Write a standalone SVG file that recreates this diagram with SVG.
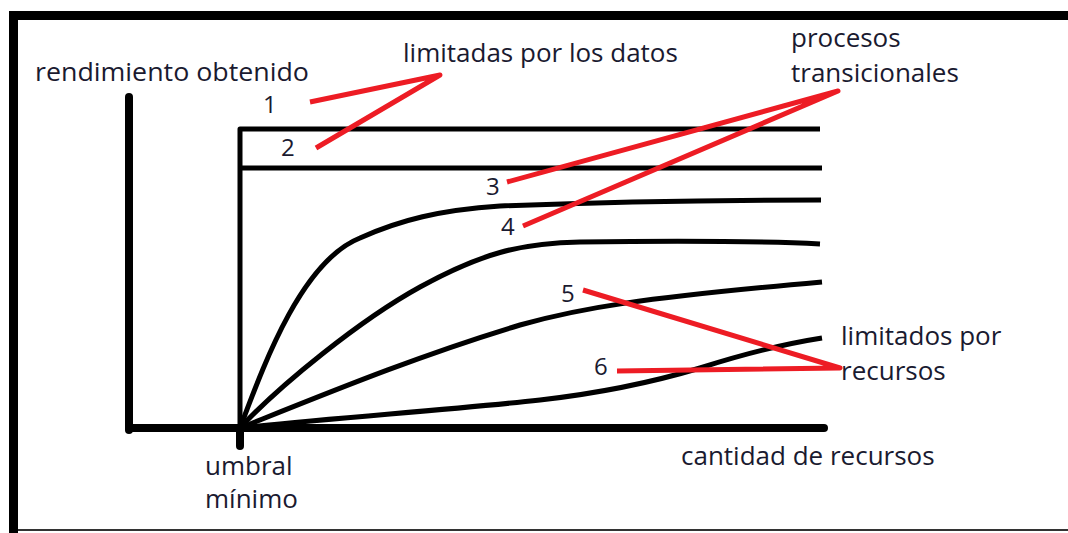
<svg xmlns="http://www.w3.org/2000/svg" width="1068" height="533" viewBox="0 0 1068 533">
<style>
.t{font-family:"Open Sans","Noto Sans","Liberation Sans",sans-serif;font-size:26px;fill:#1a1a30}
.n{font-family:"Open Sans","Noto Sans","Liberation Sans",sans-serif;font-size:24px;fill:#1a1a30}
.k{fill:none;stroke:#000;stroke-width:5;stroke-linejoin:round}
.ax{fill:none;stroke:#000;stroke-width:8;stroke-linecap:round}
.r{fill:none;stroke:#ed1c24;stroke-width:5;stroke-linecap:butt;stroke-linejoin:round}
</style>
<rect width="1068" height="533" fill="#fff"/>
<g id="frame">
<rect x="9" y="11" width="1059" height="9" fill="#000"/>
<rect x="9" y="11" width="9" height="522" fill="#000"/>
<rect x="18" y="529" width="1050" height="2" fill="#333"/>
</g>
<g id="axes">
<path class="ax" d="M129,97 L129,430"/>
<path class="ax" d="M129,428 L824,428" stroke-width="9"/>
<path class="ax" d="M240,428 L240,446"/>
</g>
<g id="curves">
<path id="c1" class="k" d="M240,428 L240,129 L820,129"/>
<path id="c2" class="k" d="M240,168 L822,168"/>
<path id="c3" class="k" d="M240,428 C262,370 300,262 360,238 C400,220 440,210 500,206 C600,202 700,200 821,200"/>
<path id="c4" class="k" d="M240,428 C280,385 360,320 420,287 C480,254 520,243 580,242 C660,241 760,241 820,244"/>
<path id="c5" class="k" d="M240,428 C330,392 420,355 520,325 C580,308 640,298 822,282"/>
<path id="c6" class="k" d="M240,428 C330,418 450,410 540,400 C610,392 660,380 700,368 C750,352 790,343 822,338"/>
</g>
<g id="connectors">
<path class="r" d="M310,102 L440,75 L316,148"/>
<path class="r" d="M507,182 L838,91 L523,226"/>
<path class="r" d="M583,290 L840,368 L617,371"/>
</g>
<g id="labels">
<text class="t" x="35" y="81" textLength="274" lengthAdjust="spacingAndGlyphs">rendimiento obtenido</text>
<text class="t" x="403" y="62">limitadas por los datos</text>
<text class="t" x="791" y="47">procesos</text>
<text class="t" x="791" y="82">transicionales</text>
<text class="t" x="841" y="345">limitados por</text>
<text class="t" x="841" y="380">recursos</text>
<text class="t" x="681" y="465">cantidad de recursos</text>
<text class="t" x="205" y="475">umbral</text>
<text class="t" x="205" y="508">mínimo</text>
<text class="n" x="263" y="113" font-size="22">1</text>
<text class="n" x="281" y="156">2</text>
<text class="n" x="486" y="195">3</text>
<text class="n" x="501" y="235">4</text>
<text class="n" x="561" y="302">5</text>
<text class="n" x="594" y="375">6</text>
</g>
</svg>
